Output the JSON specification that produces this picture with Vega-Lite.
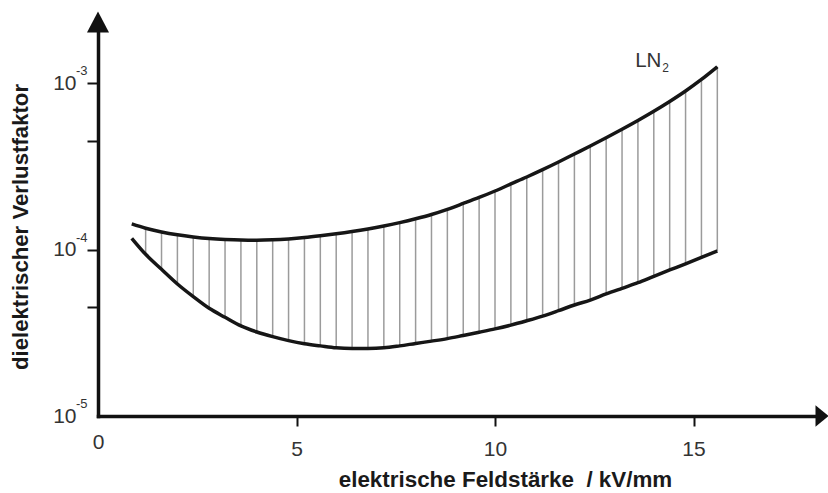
{
  "$schema": "https://vega.github.io/schema/vega-lite/v6.json",
  "width": 720,
  "height": 394,
  "autosize": {"type": "none"},
  "padding": {"left": 98, "top": 22, "right": 10, "bottom": 77},
  "background": "white",
  "config": {"view": {"stroke": null}, "font": "Liberation Sans"},
  "datasets": {
    "curve": [
      {"E": 0.85, "hi": 1.428e-4, "lo": 1.171e-4},
      {"E": 1.2, "hi": 1.345e-4, "lo": 9.38e-5},
      {"E": 1.6, "hi": 1.278e-4, "lo": 7.62e-5},
      {"E": 2.0, "hi": 1.229e-4, "lo": 6.22e-5},
      {"E": 2.4, "hi": 1.193e-4, "lo": 5.22e-5},
      {"E": 2.8, "hi": 1.166e-4, "lo": 4.44e-5},
      {"E": 3.2, "hi": 1.150e-4, "lo": 3.92e-5},
      {"E": 3.6, "hi": 1.142e-4, "lo": 3.48e-5},
      {"E": 4.0, "hi": 1.141e-4, "lo": 3.20e-5},
      {"E": 4.4, "hi": 1.147e-4, "lo": 3.00e-5},
      {"E": 4.8, "hi": 1.161e-4, "lo": 2.84e-5},
      {"E": 5.2, "hi": 1.182e-4, "lo": 2.72e-5},
      {"E": 5.6, "hi": 1.211e-4, "lo": 2.64e-5},
      {"E": 6.0, "hi": 1.245e-4, "lo": 2.57e-5},
      {"E": 6.4, "hi": 1.285e-4, "lo": 2.55e-5},
      {"E": 6.8, "hi": 1.332e-4, "lo": 2.55e-5},
      {"E": 7.2, "hi": 1.388e-4, "lo": 2.57e-5},
      {"E": 7.6, "hi": 1.455e-4, "lo": 2.64e-5},
      {"E": 8.0, "hi": 1.534e-4, "lo": 2.73e-5},
      {"E": 8.4, "hi": 1.628e-4, "lo": 2.82e-5},
      {"E": 8.8, "hi": 1.749e-4, "lo": 2.92e-5},
      {"E": 9.2, "hi": 1.896e-4, "lo": 3.05e-5},
      {"E": 9.6, "hi": 2.060e-4, "lo": 3.19e-5},
      {"E": 10.0, "hi": 2.254e-4, "lo": 3.34e-5},
      {"E": 10.4, "hi": 2.484e-4, "lo": 3.52e-5},
      {"E": 10.8, "hi": 2.736e-4, "lo": 3.74e-5},
      {"E": 11.2, "hi": 3.028e-4, "lo": 3.99e-5},
      {"E": 11.6, "hi": 3.368e-4, "lo": 4.30e-5},
      {"E": 12.0, "hi": 3.763e-4, "lo": 4.65e-5},
      {"E": 12.4, "hi": 4.203e-4, "lo": 4.98e-5},
      {"E": 12.8, "hi": 4.708e-4, "lo": 5.42e-5},
      {"E": 13.2, "hi": 5.297e-4, "lo": 5.86e-5},
      {"E": 13.6, "hi": 5.981e-4, "lo": 6.33e-5},
      {"E": 14.0, "hi": 6.796e-4, "lo": 6.92e-5},
      {"E": 14.4, "hi": 7.783e-4, "lo": 7.55e-5},
      {"E": 14.8, "hi": 9.000e-4, "lo": 8.23e-5},
      {"E": 15.2, "hi": 1.056e-3, "lo": 9.00e-5},
      {"E": 15.6, "hi": 1.259e-3, "lo": 9.82e-5}
    ],
    "powers": [
      {"p": 1e-5, "e": "-5"},
      {"p": 1e-4, "e": "-4"},
      {"p": 1e-3, "e": "-3"}
    ],
    "arrows": [
      {"E": 18.136, "v": 1e-5, "dir": "x"},
      {"E": 0, "v": 0.002339, "dir": "y"}
    ],
    "labels": [
      {"E": 13.53, "v": 0.001246, "t": "LN", "s": "2"}
    ]
  },
  "layer": [
    {
      "data": {"name": "curve"},
      "transform": [{"filter": "datum.E >= 1"}],
      "mark": {"type": "rule", "color": "#9b9b9b", "strokeWidth": 1.5},
      "encoding": {
        "x": {
          "field": "E",
          "type": "quantitative",
          "scale": {"domain": [0, 18.136], "nice": false, "zero": false},
          "axis": {
            "title": "elektrische Feldstärke\u00a0 / kV/mm",
            "values": [0, 5, 10, 15],
            "format": "d",
            "grid": false,
            "domainColor": "#111111",
            "domainWidth": 3.5,
            "domainCap": "square",
            "tickColor": "#111111",
            "tickWidth": 2,
            "tickSize": 10,
            "tickOpacity": {"condition": {"test": "datum.value === 0", "value": 0}, "value": 1},
            "labelFont": "Liberation Sans",
            "labelFontSize": 21,
            "labelColor": "#333333",
            "labelPadding": {"condition": {"test": "datum.value === 0", "value": 5}, "value": 12},
            "labelFlush": false,
            "labelOverlap": false,
            "titleFont": "Liberation Sans",
            "titleFontSize": 22.4,
            "titleFontWeight": "bold",
            "titleColor": "#1a1a1a",
            "titleX": 407,
            "titleY": 70,
            "titleAlign": "center",
            "titleBaseline": "alphabetic"
          }
        },
        "y": {
          "field": "lo",
          "type": "quantitative",
          "scale": {"type": "log", "domain": [1e-5, 0.002339], "nice": false},
          "axis": {
            "title": "dielektrischer Verlustfaktor",
            "values": [1e-5, 4.5e-5, 1e-4, 4.5e-4, 1e-3],
            "labelExpr": "(datum.value < 2e-5 || (datum.value > 9e-5 && datum.value < 2e-4) || datum.value > 9e-4) ? '10' : ''",
            "grid": false,
            "domainColor": "#111111",
            "domainWidth": 3.5,
            "domainCap": "square",
            "tickColor": "#111111",
            "tickWidth": 2,
            "tickSize": 11,
            "tickOpacity": {"condition": {"test": "datum.value < 2e-5", "value": 0}, "value": 1},
            "labelFont": "Liberation Sans",
            "labelFontSize": 21,
            "labelColor": "#333333",
            "labelPadding": 11,
            "labelFlush": false,
            "labelOverlap": false,
            "titleFont": "Liberation Sans",
            "titleFontSize": 22.2,
            "titleFontWeight": "bold",
            "titleColor": "#1a1a1a",
            "titleAngle": -90,
            "titleX": -71,
            "titleY": 204.5,
            "titleAlign": "center",
            "titleBaseline": "alphabetic"
          }
        },
        "y2": {"field": "hi"}
      }
    },
    {
      "data": {"name": "curve"},
      "mark": {"type": "line", "interpolate": "monotone", "color": "#161616", "strokeWidth": 3.5},
      "encoding": {
        "x": {"field": "E", "type": "quantitative"},
        "y": {"field": "hi", "type": "quantitative"}
      }
    },
    {
      "data": {"name": "curve"},
      "mark": {"type": "line", "interpolate": "monotone", "color": "#161616", "strokeWidth": 3.5},
      "encoding": {
        "x": {"field": "E", "type": "quantitative"},
        "y": {"field": "lo", "type": "quantitative"}
      }
    },
    {
      "data": {"name": "powers"},
      "mark": {"type": "text", "align": "left", "baseline": "middle", "dx": -22, "dy": -12, "fontSize": 13, "color": "#333333", "font": "Liberation Sans"},
      "encoding": {
        "x": {"datum": 0, "type": "quantitative"},
        "y": {"field": "p", "type": "quantitative"},
        "text": {"field": "e"}
      }
    },
    {
      "data": {"name": "labels"},
      "mark": {"type": "text", "align": "left", "baseline": "alphabetic", "fontSize": 20.5, "color": "#333333", "font": "Liberation Sans"},
      "encoding": {
        "x": {"field": "E", "type": "quantitative"},
        "y": {"field": "v", "type": "quantitative"},
        "text": {"field": "t"}
      }
    },
    {
      "data": {"name": "labels"},
      "mark": {"type": "text", "align": "left", "baseline": "alphabetic", "dx": 27, "dy": 4.5, "fontSize": 12, "color": "#333333", "font": "Liberation Sans"},
      "encoding": {
        "x": {"field": "E", "type": "quantitative"},
        "y": {"field": "v", "type": "quantitative"},
        "text": {"field": "s"}
      }
    },
    {
      "data": {"name": "arrows"},
      "mark": {"type": "point", "filled": true, "opacity": 1, "color": "#111111", "size": 441, "strokeWidth": 0},
      "encoding": {
        "x": {"field": "E", "type": "quantitative"},
        "y": {"field": "v", "type": "quantitative"},
        "shape": {
          "field": "dir",
          "type": "nominal",
          "scale": {"domain": ["x", "y"], "range": ["M1,0L-0.24,-1.02L-0.24,1.02Z", "M0,-1L1.05,1L-1.05,1Z"]},
          "legend": null
        }
      }
    }
  ]
}
